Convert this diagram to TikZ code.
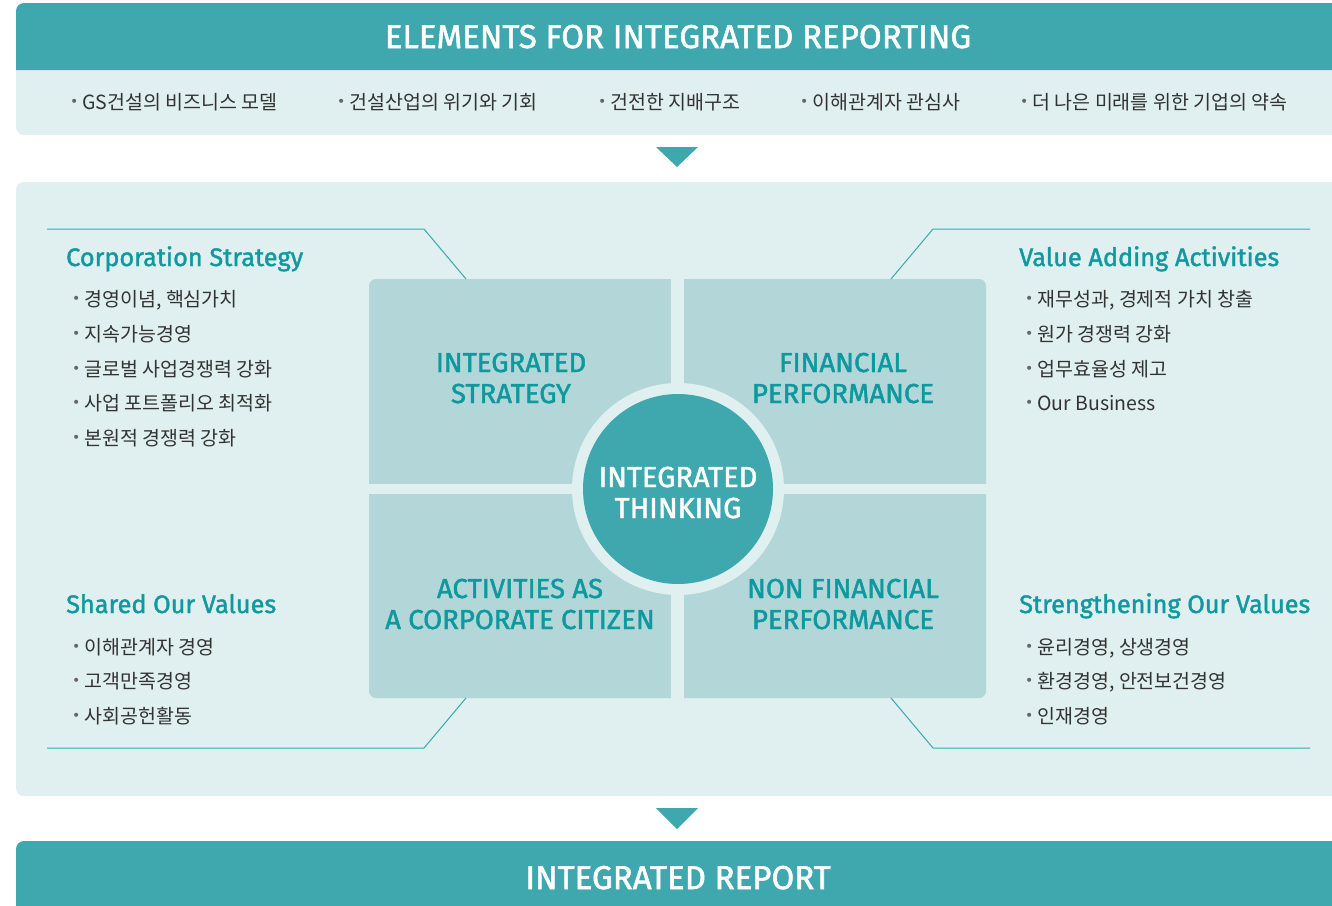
\documentclass[tikz,border=0pt]{standalone}
\usepackage{xcolor}
\usepackage{fontspec}
\usepackage{tikz}
\setmainfont{Fira Sans}
\newfontfamily\dinfont[FakeBold=1.6]{Fira Sans}
\newfontfamily\krfont{Noto Sans CJK KR}
\newfontfamily\symfont{DejaVu Sans}

\definecolor{irteal}{HTML}{3EA8AE}
\definecolor{irlight}{HTML}{E0EFEF}
\definecolor{irquad}{HTML}{B3D7D9}
\definecolor{irhead}{HTML}{12999F}
\definecolor{irquadtext}{HTML}{0E999E}
\definecolor{irgray}{HTML}{333333}
\definecolor{irline}{HTML}{3AA9AF}

\newcommand{\bul}{\raisebox{2.5pt}{\fontsize{14}{14}\symfont\textcolor{irgray!75}{•}}\hspace{4pt}}

\tikzset{
  heading/.style={anchor=base west, inner sep=0pt, text=irhead,
    font=\dinfont\fontsize{25.3}{30}\selectfont},
  entry/.style={anchor=base west, inner sep=0pt, text=irgray,
    font=\krfont\fontsize{19.5}{22}\selectfont},
  quadtext/.style={anchor=base, align=center, inner sep=0pt, text=irquadtext,
    font=\dinfont\fontsize{27.5}{31}\selectfont},
  bandtitle/.style={anchor=base, inner sep=0pt, text=white,
    font=\dinfont\fontsize{33}{36}\selectfont},
  bracket/.style={draw=irline, line width=1pt},
}

\begin{document}
\begin{tikzpicture}[x=1pt,y=-1pt]
\useasboundingbox (0,0) rectangle (1332,905);

% top band
\fill[irlight, rounded corners=8pt] (16,40) rectangle (1345,135);
\fill[irteal] (16,70) [rounded corners=8pt]-- (16,3) [sharp corners]-- (1345,3) -- (1345,70) -- cycle;
\node[bandtitle] (elements) at (678,48) {ELEMENTS FOR INTEGRATED REPORTING};
\node[entry] (el1) at (70,109) {\bul GS건설의 비즈니스 모델};
\node[entry] (el2) at (337,109) {\bul 건설산업의 위기와 기회};
\node[entry] (el3) at (598,109) {\bul 건전한 지배구조};
\node[entry] (el4) at (800,109) {\bul 이해관계자 관심사};
\node[entry] (el5) at (1020,109) {\bul 더 나은 미래를 위한 기업의 약속};
\fill[irteal] (656,147) -- (698,147) -- (677,167) -- cycle;

% middle panel
\fill[irlight, rounded corners=8pt] (16,182) rectangle (1345,796);
\fill[irquad, rounded corners=7pt] (369,279) rectangle (986,698);
\fill[irlight] (671,270) rectangle (684,705);
\fill[irlight] (360,484) rectangle (995,494);
\fill[irlight] (678,489) circle (106);
\node[circle, fill=irteal, minimum size=190pt, inner sep=0pt] (thinking) at (678,489) {};
\node[quadtext, text=white, font=\dinfont\fontsize{29}{31}\selectfont] (thinkingtext) at (678,518) {INTEGRATED\\THINKING};

\node[quadtext] (strategy) at (511,403) {INTEGRATED\\STRATEGY};
\node[quadtext] (financial) at (843,403) {FINANCIAL\\PERFORMANCE};
\node[quadtext] (citizen) at (520,629) {ACTIVITIES AS\\A CORPORATE CITIZEN};
\node[quadtext] (nonfinancial) at (843,629) {NON FINANCIAL\\PERFORMANCE};

% brackets
\coordinate (tl1) at (47,229);  \coordinate (tl2) at (424,229);  \coordinate (tl3) at (466,279);
\coordinate (tr1) at (1310,229); \coordinate (tr2) at (933,229);  \coordinate (tr3) at (891,279);
\coordinate (bl1) at (47,748);  \coordinate (bl2) at (424,748);  \coordinate (bl3) at (466,698);
\coordinate (br1) at (1310,748); \coordinate (br2) at (933,748);  \coordinate (br3) at (891,698);
\draw[bracket] (tl1) -- (tl2) -- (tl3);
\draw[bracket] (tr1) -- (tr2) -- (tr3);
\draw[bracket] (bl1) -- (bl2) -- (bl3);
\draw[bracket] (br1) -- (br2) -- (br3);

% corporation strategy
\node[heading] (corp) at (66,266) {Corporation Strategy};
\node[entry] (corp1) at (72,306) {\bul 경영이념, 핵심가치};
\node[entry] (corp2) at (72,341) {\bul 지속가능경영};
\node[entry] (corp3) at (72,376) {\bul 글로벌 사업경쟁력 강화};
\node[entry] (corp4) at (72,410) {\bul 사업 포트폴리오 최적화};
\node[entry] (corp5) at (72,445) {\bul 본원적 경쟁력 강화};

% value adding activities
\node[heading] (value) at (1019,266) {Value Adding Activities};
\node[entry] (value1) at (1025,306) {\bul 재무성과, 경제적 가치 창출};
\node[entry] (value2) at (1025,341) {\bul 원가 경쟁력 강화};
\node[entry] (value3) at (1025,376) {\bul 업무효율성 제고};
\node[entry] (value4) at (1025,410) {\bul Our Business};

% shared our values
\node[heading] (shared) at (66,613) {Shared Our Values};
\node[entry] (shared1) at (72,654) {\bul 이해관계자 경영};
\node[entry] (shared2) at (72,688) {\bul 고객만족경영};
\node[entry] (shared3) at (72,723) {\bul 사회공헌활동};

% strengthening our values
\node[heading] (strength) at (1019,613) {Strengthening Our Values};
\node[entry] (strength1) at (1025,654) {\bul 윤리경영, 상생경영};
\node[entry] (strength2) at (1025,688) {\bul 환경경영, 안전보건경영};
\node[entry] (strength3) at (1025,723) {\bul 인재경영};

% bottom band
\fill[irteal] (656,808) -- (698,808) -- (677,829) -- cycle;
\fill[irteal] (16,915) [rounded corners=8pt]-- (16,841) [sharp corners]-- (1345,841) -- (1345,915) -- cycle;
\node[bandtitle] (report) at (678,889) {INTEGRATED REPORT};
\end{tikzpicture}
\end{document}
